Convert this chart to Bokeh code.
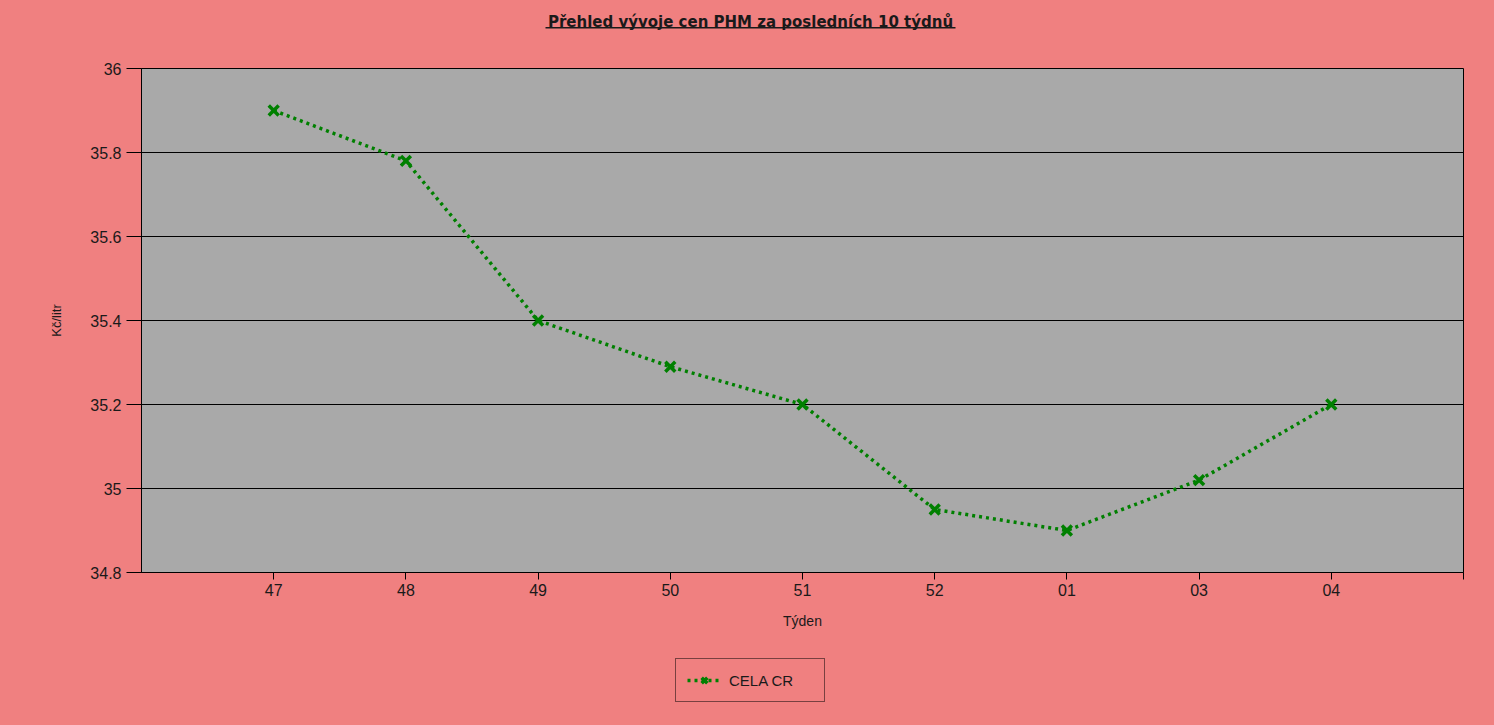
from bokeh.plotting import figure
from bokeh.layouts import column
from bokeh.models import (Range1d, FixedTicker, NumeralTickFormatter, Legend, LegendItem,
                          BoxAnnotation, Label)
from bokeh.embed import file_html
from bokeh.resources import INLINE

weeks = ["47", "48", "49", "50", "51", "52", "01", "03", "04"]
prices = [35.90, 35.78, 35.40, 35.29, 35.20, 34.95, 34.90, 35.02, 35.20]
y_ticks = [34.8, 35.0, 35.2, 35.4, 35.6, 35.8, 36.0]
series_name = "CELA CR"
title_text = "Přehled vývoje cen PHM za posledních 10 týdnů"
x_label = "Týden"
y_label = "Kč/litr"

BG = "#F08080"
PLOT_BG = "#A9A9A9"
GREEN = "#008000"
TXT = "#1a1a1a"
FONT = "Liberation Sans"
W = 1486
BL, BR = 141, 23  # left / right borders shared by all strips

xs = list(range(1, len(weeks) + 1))


def blank_fig(h):
    # strip whose data coordinates equal page pixels
    f = figure(width=W, height=h, output_backend="svg", toolbar_location=None,
               x_range=Range1d(BL, W - BR), y_range=Range1d(h, 0),
               x_axis_type=None, y_axis_type=None,
               min_border_left=BL, min_border_right=BR, min_border_top=0, min_border_bottom=0)
    f.grid.visible = False
    f.outline_line_color = None
    f.background_fill_color = BG
    f.border_fill_color = BG
    return f


# ---- title strip ----
top = blank_fig(40)
top.add_layout(Label(x=750, y=21, text=title_text, text_align="center",
                     text_baseline="alphabetic", text_font="DejaVu Sans",
                     text_font_size="15px", text_font_style="bold", text_color=TXT))
top.add_layout(BoxAnnotation(left=545, right=955, top=26.5, bottom=28,
                             fill_color=TXT, fill_alpha=1, line_alpha=0))

# ---- main chart ----
p = figure(width=W, height=600, output_backend="svg", toolbar_location=None,
           x_range=Range1d(0, len(weeks) + 1), y_range=Range1d(y_ticks[0], y_ticks[-1]),
           min_border_left=BL, min_border_right=BR, min_border_top=28, min_border_bottom=68)
p.background_fill_color = PLOT_BG
p.border_fill_color = BG
p.outline_line_color = "black"
p.outline_line_width = 1

xa = p.xaxis[0]
xa.ticker = FixedTicker(ticks=xs + [len(weeks) + 1])
overrides = {x: w for x, w in zip(xs, weeks)}
overrides[len(weeks) + 1] = ""
xa.major_label_overrides = overrides
xa.major_tick_out = 7
xa.major_tick_in = 0
xa.minor_tick_out = 0
xa.minor_tick_in = 0
xa.major_label_standoff = 4
xa.axis_label = x_label
xa.axis_label_standoff = 14
xa.axis_label_text_font_style = "normal"

ya = p.yaxis[0]
ya.ticker = FixedTicker(ticks=y_ticks)
ya.formatter = NumeralTickFormatter(format="0.[0]")
ya.major_tick_out = 15
ya.major_tick_in = 0
ya.minor_tick_out = 0
ya.minor_tick_in = 0
ya.major_label_standoff = 5
ya.axis_label = y_label
ya.axis_label_standoff = 23
ya.axis_label_text_font_style = "normal"

for ax, lsize in ((xa, "14px"), (ya, "13px")):
    ax.axis_line_color = "black"
    ax.major_tick_line_color = "black"
    ax.major_label_text_font = FONT
    ax.major_label_text_font_size = "16px"
    ax.major_label_text_color = TXT
    ax.axis_label_text_font = FONT
    ax.axis_label_text_font_size = lsize
    ax.axis_label_text_color = TXT

p.xgrid.visible = False
p.ygrid.grid_line_color = "black"
p.ygrid.grid_line_width = 1
p.ygrid.grid_line_alpha = 1

line_style = dict(line_color=GREEN, line_width=3.5, line_dash="3 4")
mark_style = dict(marker="x", size=14, line_color=GREEN, line_width=3.5)
p.line(xs, prices, **line_style)
p.scatter(xs, prices, **mark_style)

# ---- legend strip ----
# same series drawn again here only to feed the legend; it lies outside this strip's view
bottom = blank_fig(77)
lg_line = bottom.line(xs, prices, **line_style)
lg_mark = bottom.scatter(xs, prices, **mark_style)
legend = Legend(items=[LegendItem(label=series_name, renderers=[lg_line, lg_mark])],
                location=(675 - BL, 15), orientation="vertical",
                padding=11, margin=0, spacing=0,
                glyph_width=34, glyph_height=20, label_standoff=8, label_width=84,
                label_text_font=FONT, label_text_font_size="15px", label_text_color=TXT,
                border_line_color="black", border_line_width=1.5,
                background_fill_color=BG, background_fill_alpha=1)
bottom.add_layout(legend)

layout = column(top, p, bottom, spacing=0)

html = file_html(layout, INLINE)
html = html.replace("<head>", "<head><style>html, body { background: %s; }</style>" % BG, 1)
open("out.html", "w").write(html)
